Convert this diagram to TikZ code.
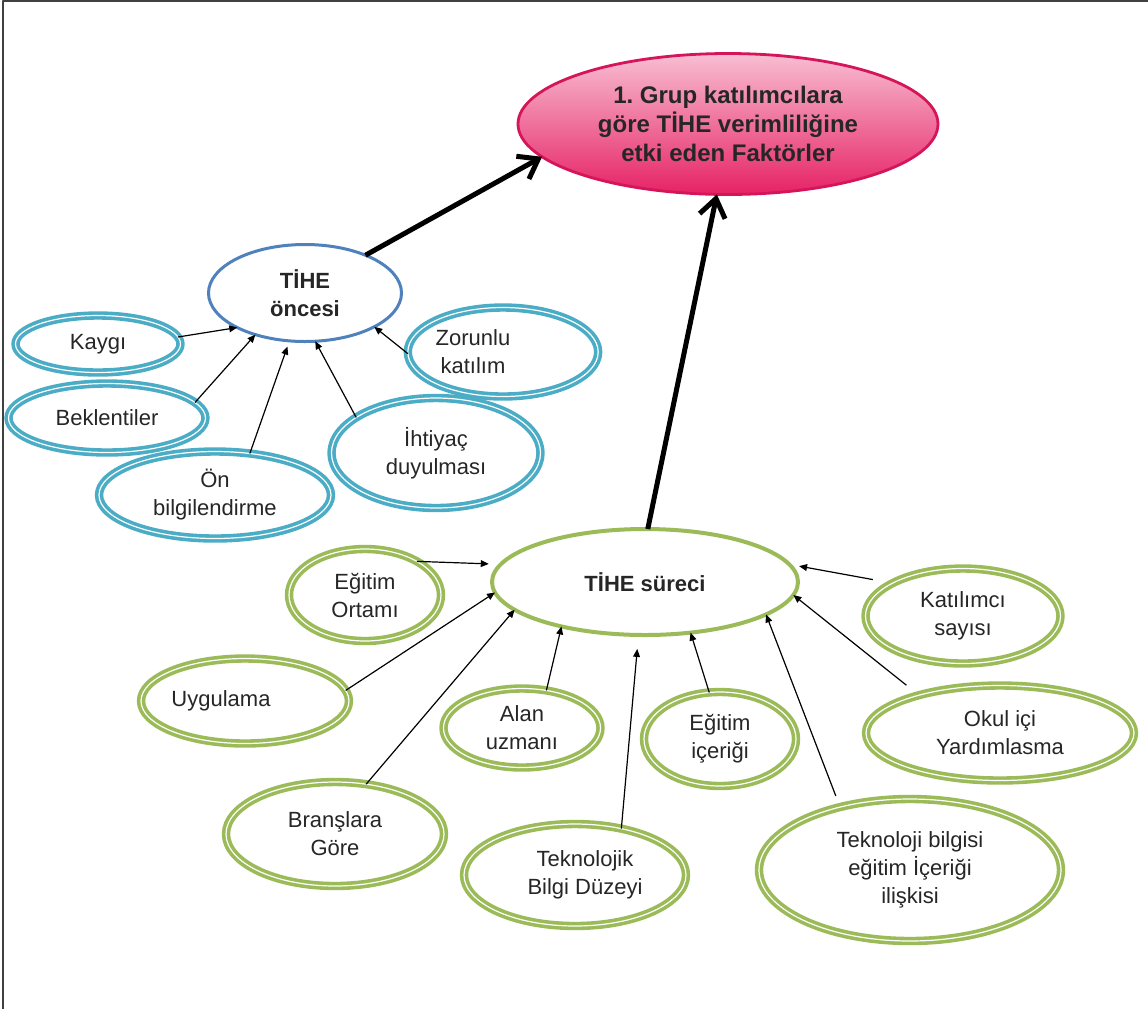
\documentclass[tikz,border=0pt]{standalone}
\usepackage{fontspec}
\setmainfont{Liberation Sans}
\usetikzlibrary{arrows.meta,shapes.geometric}
\definecolor{ringteal}{RGB}{75,172,198}
\definecolor{ringgreen}{RGB}{155,187,89}
\definecolor{hubblue}{RGB}{79,129,189}
\definecolor{titleedge}{RGB}{214,20,90}
\definecolor{titletop}{RGB}{248,190,210}
\definecolor{titlebot}{RGB}{230,34,100}
\definecolor{labelgrey}{RGB}{38,38,38}
\definecolor{framegrey}{RGB}{64,64,64}

\begin{document}
\begin{tikzpicture}[x=0.5pt,y=-0.5pt,line join=round,>={Triangle[length=4pt,width=3.4pt]},
    every node/.style={text=labelgrey,font=\fontsize{11}{14}\selectfont,align=center},
    blob/.style={ellipse,inner sep=0pt,outer sep=0pt,fill=white},
    ring/.style={blob,draw=#1,line width=1.8pt,double=white,double distance=0.6pt},
    hub/.style={blob,draw=#1,font=\fontsize{11}{14}\selectfont\bfseries},
    feed/.style={->,line width=0.6pt},
    lead/.style={-{Straight Barb[length=9pt,width=13pt]},line width=2.5pt}]
    \useasboundingbox (0,0) rectangle (1148,1009);
    \draw [framegrey,line width=1pt] (3,1009) -- (3,1) -- (1148,1);
    % goal
    \node[blob,draw=titleedge,line width=1.4pt,top color=titletop,bottom color=titlebot,
        minimum width=210pt,minimum height=70.5pt,font=\fontsize{12}{14.5}\selectfont\bfseries]
        (goal) at (728,124) {1.\ Grup katılımcılara\\göre TİHE verimliliğine\\etki eden Faktörler};
    % before
    \node[hub=hubblue,line width=1.5pt,minimum width=96.5pt,minimum height=48.5pt] (oncesi) at (305,293) {TİHE\\öncesi};
    \node[ring=ringteal,minimum width=82.5pt,minimum height=28.5pt] (kaygi) at (98,344) {Kaygı};
    \node[ring=ringteal,minimum width=98.5pt,minimum height=34.5pt] (beklenti) at (107,418) {Beklentiler};
    \node[ring=ringteal,minimum width=104.5pt,minimum height=55pt] (ihtiyac) at (436,453) {İhtiyaç\\duyulması};
    \node[ring=ringteal,minimum width=116pt,minimum height=43.5pt] (onbilgi) at (215,495) {Ön\\bilgilendirme};
    \node[ring=ringteal,minimum width=92.5pt,minimum height=44.5pt] (zorunlu) at (503,352) {Zorunlu\kern30pt\\katılım\kern30pt};
    % during
    \node[hub=ringgreen,line width=2pt,minimum width=153pt,minimum height=53pt] (sureci) at (645,582) {TİHE süreci};
    \node[ring=ringgreen,minimum width=76pt,minimum height=46pt] (egortam) at (365,595) {Eğitim\\Ortamı};
    \node[ring=ringgreen,minimum width=97.5pt,minimum height=47.5pt] (katilimci) at (963,616) {Katılımcı\\sayısı};
    \node[ring=ringgreen,minimum width=91pt,minimum height=42.5pt] (uygulama) at (245,701) {Uygulama\kern24pt};
    \node[ring=ringgreen,minimum width=78.5pt,minimum height=39.5pt] (alan) at (522,728) {Alan\\uzmanı};
    \node[ring=ringgreen,minimum width=76pt,minimum height=47pt] (egicerik) at (720,739) {Eğitim\\içeriği};
    \node[ring=ringgreen,minimum width=134pt,minimum height=47.5pt] (okul) at (1000,733) {Okul içi\\Yardımlasma};
    \node[ring=ringgreen,minimum width=109pt,minimum height=52pt] (brans) at (335,834) {Branşlara\\Göre};
    \node[ring=ringgreen,minimum width=111pt,minimum height=51pt] (tekbilgi) at (575,875) {\kern10pt Teknolojik\\\kern10pt Bilgi Düzeyi};
    \node[ring=ringgreen,minimum width=151pt,minimum height=71pt] (tekicerik) at (910,870) {Teknoloji bilgisi\\eğitim İçeriği\\ilişkisi};
    % arrows
    \draw[feed] (kaygi.5) -- (oncesi.207);
    \draw[feed] (beklenti.10) -- (oncesi.220);
    \draw[feed,shorten >=3pt] (onbilgi.50) -- (oncesi.252);
    \draw[feed] (ihtiyac.156) -- (oncesi.282);
    \draw[feed] (zorunlu.181) -- (oncesi.334);
    \draw[lead] (oncesi.32) -- (goal.190);
    \draw[lead] (sureci.87) -- (goal.261);
    \draw[feed,shorten >=6pt] (egortam.33) -- (sureci.173);
    \draw[feed] (uygulama.6) -- (sureci.184);
    \draw[feed] (brans.58) -- (sureci.192);
    \draw[feed] (alan.57) -- (sureci.208);
    \draw[feed,shorten >=7pt] (tekbilgi.45) -- (sureci.263);
    \draw[feed] (egicerik.103) -- (sureci.312);
    \draw[feed,shorten <=6pt] (tekicerik.138) -- (sureci.345);
    \draw[feed,shorten <=8pt] (okul.155) -- (sureci.355);
    \draw[feed,shorten <=10pt,shorten >=5pt] (katilimci.155) -- (sureci.7);
\end{tikzpicture}
\end{document}
